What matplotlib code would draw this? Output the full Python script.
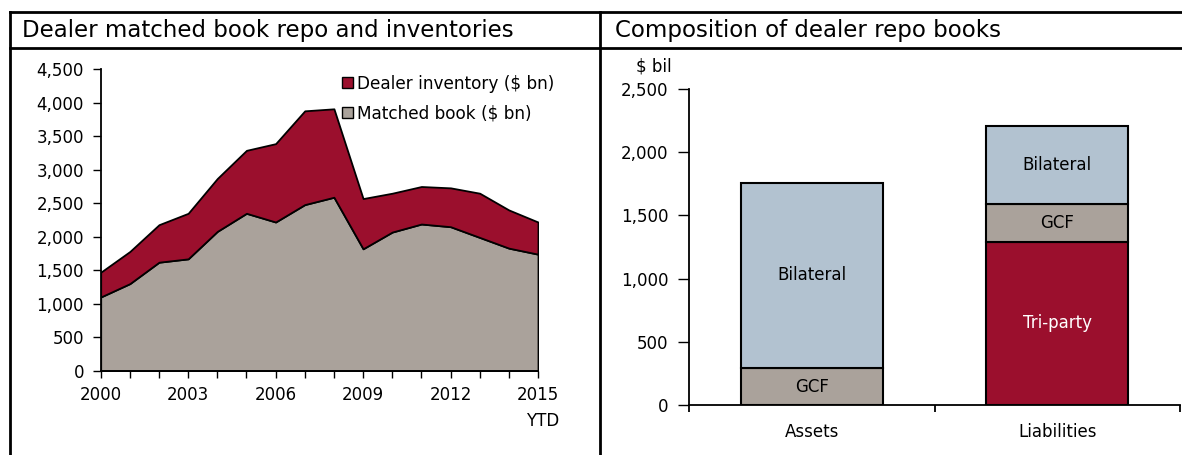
import numpy as np
import matplotlib
matplotlib.use("Agg")
import matplotlib.pyplot as plt
from matplotlib.patches import Patch
from matplotlib.lines import Line2D

plt.rcParams['font.family'] = ['DejaVu Sans']

# -----------------------------
# Data
# -----------------------------
years = list(range(2000, 2016))
matched_book = [1100, 1300, 1620, 1670, 2080, 2350, 2220, 2480, 2590,
                1820, 2070, 2190, 2150, 1990, 1830, 1740]
dealer_inventory = [370, 480, 560, 680, 790, 940, 1170, 1400, 1320,
                    750, 580, 560, 580, 660, 570, 480]
year_ticks = [2000, 2003, 2006, 2009, 2012, 2015]
year_labels = ["2000", "2003", "2006", "2009", "2012", "2015\nYTD"]

bar_categories = ["Assets", "Liabilities"]
triparty = [0, 1290]
gcf = [290, 300]
bilateral = [1470, 620]

left_title = "Dealer matched book repo and inventories"
right_title = "Composition of dealer repo books"

RED = "#9b0f2d"
GREY = "#aaa29b"
BLUE = "#b2c2d0"

W, H = 1182, 455
fig = plt.figure(figsize=(W / 100, H / 100), dpi=100)

def fx(px):
    return px / W

def fy(py):
    return 1 - py / H

# -----------------------------
# Frame lines and titles
# -----------------------------
for xs, ys in [((10, W), (12, 12)), ((10, W), (48, 48)),
               ((10, 10), (12, 455)), ((600, 600), (12, 455))]:
    fig.add_artist(Line2D([fx(x) for x in xs], [fy(y) for y in ys],
                          color="black", lw=2, transform=fig.transFigure))

title_font = dict(family=["DejaVu Sans"], weight="normal", fontsize=16.5)
fig.text(fx(22), fy(31), left_title, ha="left", va="center", **title_font)
fig.text(fx(615), fy(31), right_title, ha="left", va="center", **title_font)

# -----------------------------
# Left: stacked area chart
# -----------------------------
ax1 = fig.add_axes([fx(100.7), fy(370.7), fx(538 - 100.7), (370.7 - 69.3) / H])
ax1.stackplot(years, matched_book, dealer_inventory, colors=[GREY, RED],
              edgecolor="black", linewidth=1.3)
ax1.set_xlim(2000, 2015)
ax1.set_ylim(0, 4500)
ax1.set_yticks(np.arange(0, 4501, 500))
ax1.set_yticklabels([f"{v:,}" for v in range(0, 4501, 500)])
ax1.set_xticks(years, minor=True)
ax1.set_xticks(year_ticks)
ax1.set_xticklabels(year_labels)
for lbl in ax1.get_xticklabels():
    lbl.set_multialignment("right")
    lbl.set_linespacing(1.6)
ax1.tick_params(axis="both", which="both", direction="out", labelsize=12,
                width=1, color="black")
ax1.tick_params(axis="y", length=6, pad=6)
ax1.tick_params(axis="x", which="both", length=5, pad=6)
for s in ["top", "right"]:
    ax1.spines[s].set_visible(False)
for s in ["left", "bottom"]:
    ax1.spines[s].set_linewidth(1.3)
ax1.set_facecolor("none")

handles = [Patch(facecolor=RED, edgecolor="black", lw=1),
           Patch(facecolor=GREY, edgecolor="black", lw=1)]
ax1.legend(handles, ["Dealer inventory ($ bn)", "Matched book ($ bn)"],
           loc="upper left", bbox_to_anchor=(0.552, 0.982), frameon=False,
           fontsize=12.2, handlelength=0.65, handleheight=0.65,
           handletextpad=0.25, labelspacing=0.68, borderpad=0, borderaxespad=0)

# -----------------------------
# Right: stacked bars
# -----------------------------
ax2 = fig.add_axes([fx(689), fy(405), fx(1180 - 689), (405 - 89) / H])
xpos = np.arange(len(bar_categories))
bw = 0.58
bottom = np.zeros(len(bar_categories))
segments = [(triparty, RED, "Tri-party", "white"),
            (gcf, GREY, "GCF", "black"),
            (bilateral, BLUE, "Bilateral", "black")]
for vals, col, name, tcol in segments:
    vals = np.array(vals, dtype=float)
    for i in range(len(xpos)):
        if vals[i] <= 0:
            continue
        ax2.bar(xpos[i], vals[i], bw, bottom=bottom[i], color=col,
                edgecolor="black", linewidth=1.5)
        ax2.text(xpos[i], bottom[i] + vals[i] / 2, name, ha="center",
                 va="center", fontsize=12, color=tcol)
    bottom += vals

ax2.set_xlim(-0.5, 1.5)
ax2.set_ylim(0, 2500)
ax2.set_yticks(np.arange(0, 2501, 500))
ax2.set_yticklabels([f"{v:,}" for v in range(0, 2501, 500)])
ax2.set_xticks(xpos)
ax2.set_xticklabels(bar_categories)
ax2.set_xticks([-0.5, 0.5, 1.5], minor=True)
ax2.tick_params(axis="x", which="major", length=0, pad=13, labelsize=12)
ax2.tick_params(axis="x", which="minor", length=5, width=1.3, direction="out")
ax2.tick_params(axis="y", length=8, width=1, direction="out", pad=7, labelsize=12)
for s in ["top", "right"]:
    ax2.spines[s].set_visible(False)
for s in ["left", "bottom"]:
    ax2.spines[s].set_linewidth(1.3)
ax2.set_facecolor("none")
fig.text(fx(672), fy(67), "$ bil", ha="right", va="center", fontsize=12)

fig.savefig("out.png", dpi=100)
